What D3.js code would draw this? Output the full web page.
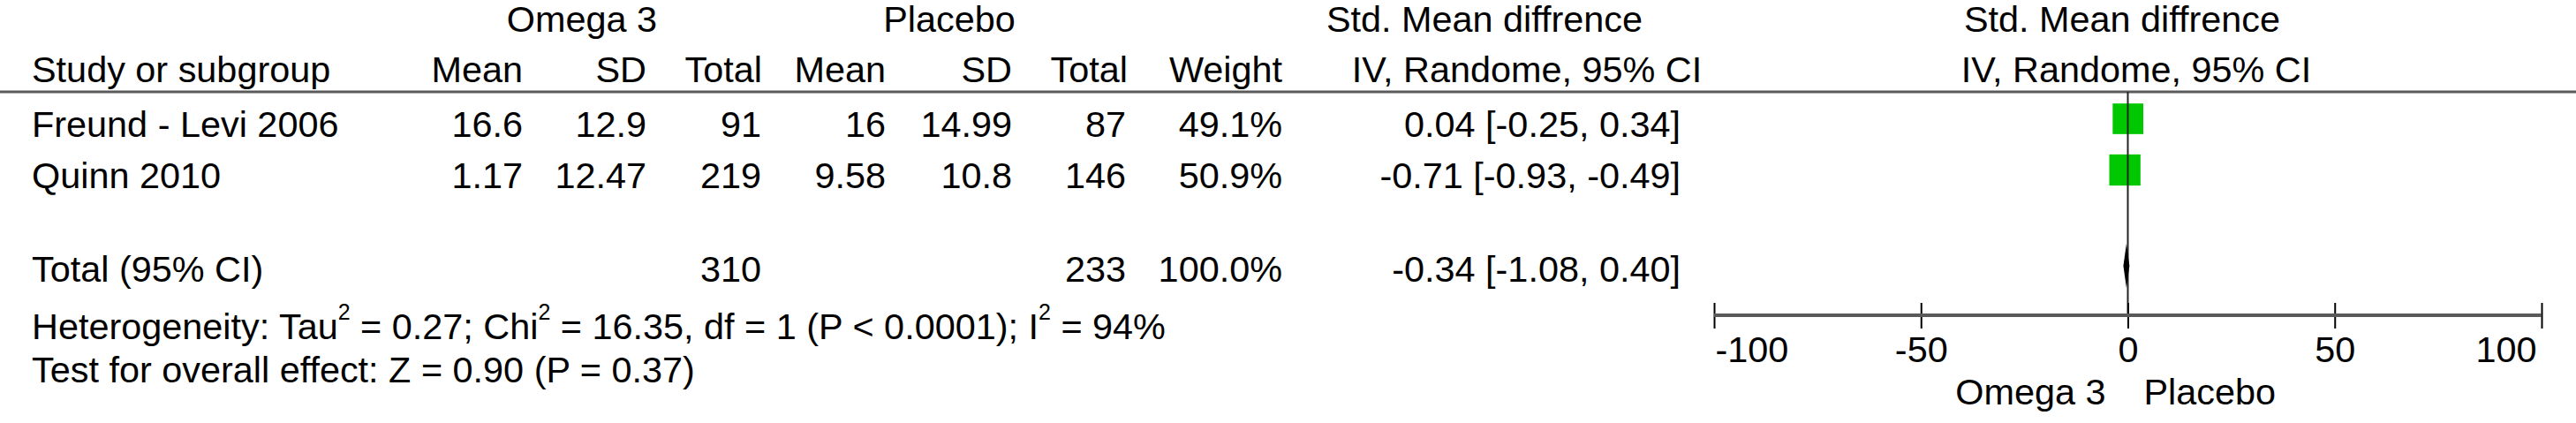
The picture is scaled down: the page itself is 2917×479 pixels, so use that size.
<!DOCTYPE html>
<html>
<head>
<meta charset="utf-8">
<script src="https://cdn.jsdelivr.net/npm/d3@7"></script>
<style>
  html, body { margin: 0; padding: 0; background: #fff; }
  svg { display: block; }
  text { font-family: "Liberation Sans", Arial, Helvetica, sans-serif; font-size: 41.4px; fill: #000; }
</style>
</head>
<body>
<svg id="chart" width="2917" height="479"></svg>
<script>
// ---------------- DATA ----------------
const studies       = ["Freund - Levi 2006", "Quinn 2010"];
const omegaMean     = [16.6, 1.17];
const omegaSD       = [12.9, 12.47];
const omegaTotal    = [91, 219];
const placeboMean   = [16, 9.58];
const placeboSD     = [14.99, 10.8];
const placeboTotal  = [87, 146];
const weights       = [49.1, 50.9];
const smd           = [0.04, -0.71];
const smdLower      = [-0.25, -0.93];
const smdUpper      = [0.34, -0.49];

const totalLabel    = "Total (95% CI)";
const totalOmega    = 310;
const totalPlacebo  = 233;
const totalWeight   = 100.0;
const totalSmd      = -0.34;
const totalLower    = -1.08;
const totalUpper    = 0.40;

const axisTicks     = [-100, -50, 0, 50, 100];
const axisDomain    = [-100, 100];
const favourLeft    = "Omega 3";
const favourRight   = "Placebo";

// ---------------- LAYOUT ----------------
const W = 2917, H = 479;
const svg = d3.select("#chart");

const f2 = v => v.toFixed(2);
const f1 = v => v.toFixed(1);
const ciText = (m, l, u) => `${f2(m)} [${f2(l)}, ${f2(u)}]`;

// row baselines
const yH1 = 36, yH2 = 93, yTot = 319, yHet = 384, yTest = 433;
const yRow = d3.scaleLinear().domain([0, 1]).range([155, 213]);

// column right edges
const col = {
  study: 36, oMean: 592, oSD: 732, oTot: 862,
  pMean: 1003, pSD: 1146, pTot: 1275, weight: 1452, ci: 1903
};

// forest scale
const x = d3.scaleLinear().domain(axisDomain).range([1941, 2878]);
const lineTop = 104, axisY = 357;

// header line
svg.append("line").attr("x1", 0).attr("x2", W).attr("y1", lineTop).attr("y2", lineTop)
  .attr("stroke", "#5a5a5a").attr("stroke-width", 3);

// ---------- headers ----------
function txt(s, xx, yy, anchor) {
  return svg.append("text").attr("x", xx).attr("y", yy).attr("text-anchor", anchor || "start").text(s);
}
txt("Omega 3", 659, yH1, "middle");
txt("Placebo", 1075, yH1, "middle");
txt("Std. Mean diffrence", 1681, yH1, "middle");
txt("Std. Mean diffrence", 2403, yH1, "middle");

txt("Study or subgroup", col.study, yH2);
txt("Mean", col.oMean, yH2, "end");
txt("SD", col.oSD, yH2, "end");
txt("Total", col.oTot + 1, yH2, "end");
txt("Mean", col.pMean, yH2, "end");
txt("SD", col.pSD, yH2, "end");
txt("Total", col.pTot + 2, yH2, "end");
txt("Weight", col.weight, yH2, "end");
txt("IV, Randome, 95% CI", 1729, yH2, "middle");
txt("IV, Randome, 95% CI", 2419, yH2, "middle");

// ---------- study rows ----------
const rows = studies.map((s, i) => ({
  i, s, om: omegaMean[i], osd: omegaSD[i], ot: omegaTotal[i],
  pm: placeboMean[i], psd: placeboSD[i], pt: placeboTotal[i],
  w: weights[i], m: smd[i], l: smdLower[i], u: smdUpper[i]
}));

const g = svg.selectAll("g.row").data(rows).join("g").attr("class", "row");
g.append("text").attr("x", col.study).attr("y", d => yRow(d.i)).text(d => d.s);
g.append("text").attr("x", col.oMean).attr("y", d => yRow(d.i)).attr("text-anchor", "end").text(d => String(d.om));
g.append("text").attr("x", col.oSD).attr("y", d => yRow(d.i)).attr("text-anchor", "end").text(d => String(d.osd));
g.append("text").attr("x", col.oTot).attr("y", d => yRow(d.i)).attr("text-anchor", "end").text(d => String(d.ot));
g.append("text").attr("x", col.pMean).attr("y", d => yRow(d.i)).attr("text-anchor", "end").text(d => String(d.pm));
g.append("text").attr("x", col.pSD).attr("y", d => yRow(d.i)).attr("text-anchor", "end").text(d => String(d.psd));
g.append("text").attr("x", col.pTot).attr("y", d => yRow(d.i)).attr("text-anchor", "end").text(d => String(d.pt));
g.append("text").attr("x", col.weight).attr("y", d => yRow(d.i)).attr("text-anchor", "end").text(d => f1(d.w) + "%");
g.append("text").attr("x", col.ci).attr("y", d => yRow(d.i)).attr("text-anchor", "end").text(d => ciText(d.m, d.l, d.u));

// ---------- total row ----------
txt(totalLabel, col.study, yTot);
txt(String(totalOmega), col.oTot, yTot, "end");
txt(String(totalPlacebo), col.pTot, yTot, "end");
txt(f1(totalWeight) + "%", col.weight, yTot, "end");
txt(ciText(totalSmd, totalLower, totalUpper), col.ci, yTot, "end");

// ---------- heterogeneity / test ----------
const het = svg.append("text").attr("x", col.study).attr("y", yHet);
const parts = [
  ["Heterogeneity: Tau", 0], ["2", 1], [" = 0.27; Chi", 0], ["2", 1],
  [" = 16.35, df = 1 (P < 0.0001); I", 0], ["2", 1], [" = 94%", 0]
];
let raised = false;
parts.forEach(([s, sup]) => {
  const t = het.append("tspan").text(s);
  if (sup) { t.attr("dy", -22).style("font-size", "25px"); raised = true; }
  else if (raised) { t.attr("dy", 22); raised = false; }
});
txt("Test for overall effect: Z = 0.90 (P = 0.37)", col.study, yTest);

// ---------- forest plot ----------
// zero line
svg.append("line").attr("x1", x(0)).attr("x2", x(0)).attr("y1", lineTop).attr("y2", axisY)
  .attr("stroke", "#222").attr("stroke-width", 2);

// CI lines
g.append("line")
  .attr("x1", d => x(d.l)).attr("x2", d => x(d.u))
  .attr("y1", d => yRow(d.i) - 20.5).attr("y2", d => yRow(d.i) - 20.5)
  .attr("stroke", "#000").attr("stroke-width", 2);

// squares (size ~ sqrt(weight))
const sz = d3.scaleSqrt().domain([0, 50]).range([0, 35]);
g.append("rect")
  .attr("x", d => x(d.m) - sz(d.w) / 2)
  .attr("y", d => yRow(d.i) - 20.5 - sz(d.w) / 2)
  .attr("width", d => sz(d.w)).attr("height", d => sz(d.w))
  .attr("fill", "#00c800");

// diamond
const dy = yTot - 18, dh = 25;
svg.append("path")
  .attr("d", `M${x(totalLower)},${dy} L${x(totalSmd)},${dy - dh} L${x(totalUpper)},${dy} L${x(totalSmd)},${dy + dh} Z`)
  .attr("fill", "#000");

// axis
const axisG = svg.append("g").attr("transform", `translate(0,${axisY - 14})`)
  .call(d3.axisBottom(x).tickValues(axisTicks).tickSizeInner(29).tickSizeOuter(0).tickFormat(d => String(d)));
axisG.select(".domain").remove();
axisG.selectAll(".tick line").attr("stroke", "#000").attr("stroke-width", 2);
axisG.selectAll(".tick text").attr("y", 67).attr("dy", 0)
  .style("font-family", '"Liberation Sans", Arial, sans-serif').style("font-size", "41.4px").attr("fill", "#000")
  .attr("text-anchor", (d, i, n) => i === 0 ? "start" : (i === n.length - 1 ? "end" : "middle"))
  .attr("x", (d, i, n) => i === 0 ? 1 : (i === n.length - 1 ? -6 : 0));
svg.append("line").attr("x1", x(axisDomain[0])).attr("x2", x(axisDomain[1]))
  .attr("y1", axisY).attr("y2", axisY).attr("stroke", "#5a5a5a").attr("stroke-width", 4);

// favour labels
txt(favourLeft, x(0) - 25, 458, "end");
txt(favourRight, x(0) + 18, 458, "start");
</script>
</body>
</html>
